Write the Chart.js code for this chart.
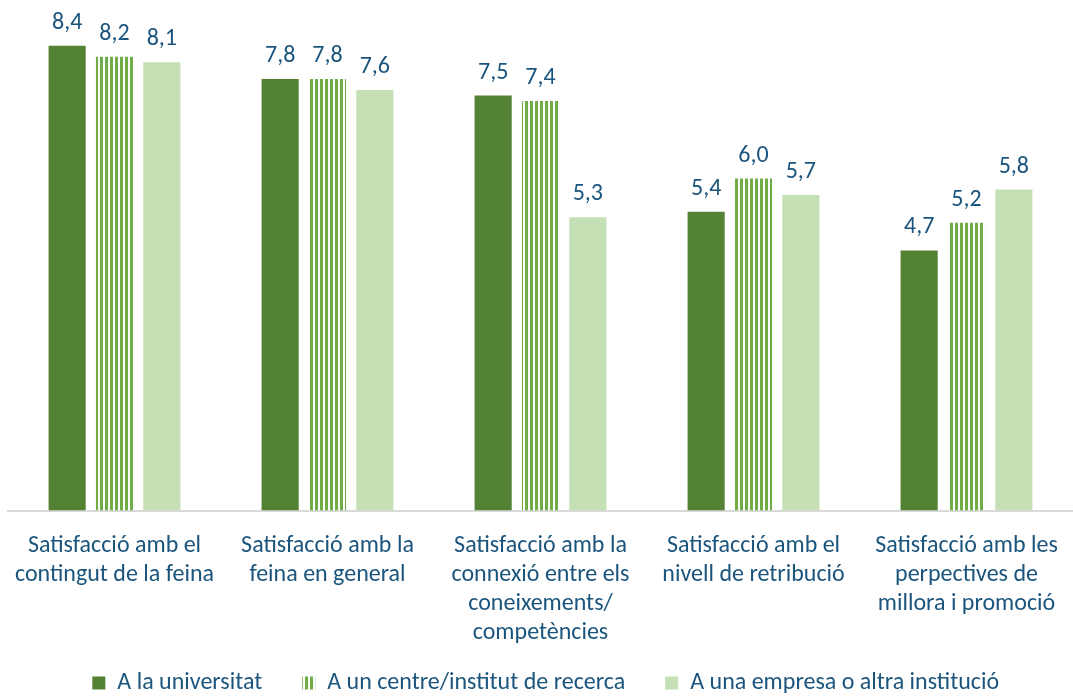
<!DOCTYPE html>
<html>
<head>
<meta charset="utf-8">
<script src="https://cdn.jsdelivr.net/npm/chart.js@4.4.1/dist/chart.umd.min.js"></script>
<style>
  html, body { margin: 0; padding: 0; background: #ffffff; }
  #wrap { width: 1073px; height: 697px; position: relative; }
</style>
</head>
<body>
<div id="wrap"><canvas id="c" width="1073" height="697"></canvas></div>
<script>
const categories = [
  ["Satisfacció amb el", "contingut de la feina"],
  ["Satisfacció amb la", "feina en general"],
  ["Satisfacció amb la", "connexió entre els", "coneixements/", "competències"],
  ["Satisfacció amb el", "nivell de retribució"],
  ["Satisfacció amb les", "perpectives de", "millora i promoció"]
];
const seriesNames = [
  "A la universitat",
  "A un centre/institut de recerca",
  "A una empresa o altra institució"
];
const universitat = [8.4, 7.8, 7.5, 5.4, 4.7];
const centreRecerca = [8.2, 7.8, 7.4, 6.0, 5.2];
const empresa = [8.1, 7.6, 5.3, 5.7, 5.8];

const FONT = "Carlito, Lato, sans-serif";
const TEXT = "#1b557d";

function stripePattern() {
  const pc = document.createElement("canvas");
  pc.width = 5; pc.height = 4;
  const g = pc.getContext("2d");
  g.fillStyle = "#ffffff";
  g.fillRect(0, 0, 5, 4);
  g.fillStyle = "#70ad47";
  g.fillRect(0, 0, 3, 4);
  return g.createPattern(pc, "repeat");
}
const stripes = stripePattern();

const valueLabels = {
  id: "valueLabels",
  afterDatasetsDraw(chart) {
    const ctx = chart.ctx;
    ctx.save();
    ctx.font = "24px " + FONT;
    ctx.fillStyle = TEXT;
    ctx.textAlign = "center";
    ctx.textBaseline = "alphabetic";
    chart.data.datasets.forEach((ds, i) => {
      const meta = chart.getDatasetMeta(i);
      meta.data.forEach((bar, j) => {
        const v = ds.data[j];
        ctx.fillText(v.toFixed(1).replace(".", ","), bar.x, bar.y - 17);
      });
    });
    ctx.restore();
  }
};

// let the multi-line category labels extend below the axis box (avoid clipping)
const labelRoom = {
  id: "labelRoom",
  afterLayout(chart) {
    chart.scales.x.bottom = chart.height;
  }
};

new Chart(document.getElementById("c"), {
  type: "bar",
  data: {
    labels: categories,
    datasets: [
      { label: seriesNames[0], data: universitat, backgroundColor: "#548235" },
      { label: seriesNames[1], data: centreRecerca, backgroundColor: stripes },
      { label: seriesNames[2], data: empresa, backgroundColor: "#c5e0b4" }
    ]
  },
  options: {
    responsive: false,
    animation: false,
    devicePixelRatio: 1,
    categoryPercentage: 0.667,
    barPercentage: 0.784,
    layout: { padding: { left: 8, right: -10.5, top: 12.5, bottom: -8 } },
    scales: {
      y: {
        display: false,
        min: 0,
        max: 9
      },
      x: {
        grid: { display: false },
        border: { display: true, color: "#d9d9d9", width: 2 },
        ticks: {
          color: TEXT,
          font: { family: FONT, size: 24, lineHeight: 1.21 },
          maxRotation: 0,
          minRotation: 0,
          autoSkip: false,
          padding: 13
        },
        afterFit(scale) { scale.height = 120.5; }
      }
    },
    plugins: {
      legend: {
        position: "bottom",
        labels: {
          color: TEXT,
          font: { family: FONT, size: 24 },
          boxWidth: 13,
          boxHeight: 13,
          padding: 40
        }
      },
      tooltip: { enabled: false }
    }
  },
  plugins: [valueLabels, labelRoom]
});
</script>
</body>
</html>
